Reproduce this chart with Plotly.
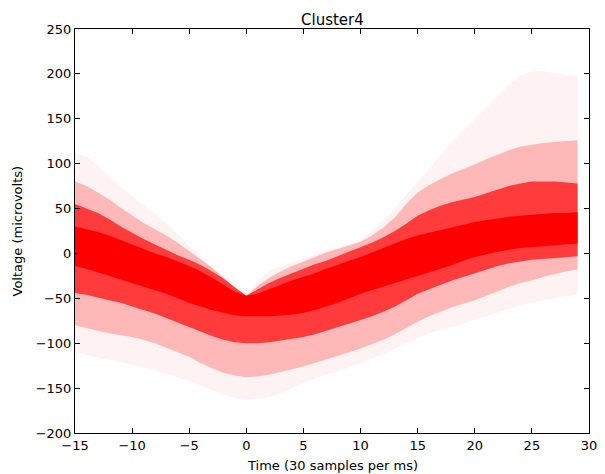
import plotly.graph_objects as go

# Time axis (samples)
t = list(range(-15, 30))

# Envelopes (microvolts), one value per sample
core_upper = [30, 27, 24, 20, 15, 10, 5, 0, -4, -9, -14, -20, -27, -35, -43, -47,
              -45, -40, -35, -30, -26, -22, -17, -13, -8, -4, 1, 6, 11, 16, 20,
              23, 26, 29, 32, 35, 37, 39, 41, 42, 43, 44, 45, 45, 46]
core_lower = [-14, -17, -21, -25, -29, -33, -37, -41, -45, -50, -55, -59, -63, -66, -69, -70,
              -70, -70, -69, -68, -66, -63, -59, -55, -50, -45, -41, -37, -33, -29, -25,
              -21, -17, -13, -8, -4, -1, 2, 4, 6, 7, 8, 9, 10, 11]
mid_upper = [55, 50, 45, 38, 30, 23, 16, 10, 4, -2, -7, -13, -20, -28, -38, -47,
             -40, -33, -27, -22, -17, -12, -8, -3, 2, 7, 12, 18, 25, 33, 42,
             48, 53, 57, 60, 63, 67, 71, 75, 78, 80, 80, 80, 79, 78]
mid_lower = [-44, -46, -49, -52, -55, -59, -63, -67, -72, -77, -82, -87, -92, -96, -99, -100,
             -100, -99, -97, -95, -93, -90, -86, -82, -78, -74, -70, -65, -59, -52, -45,
             -40, -35, -30, -26, -22, -18, -14, -11, -9, -7, -6, -5, -4, -3]
light_upper = [80, 75, 68, 60, 51, 42, 34, 27, 20, 12, 3, -6, -16, -27, -38, -47,
               -36, -27, -20, -14, -9, -4, 1, 5, 9, 13, 20, 29, 40, 55, 68,
               76, 83, 89, 94, 99, 105, 110, 115, 119, 121, 123, 124, 125, 126]
light_lower = [-80, -83, -86, -89, -91, -93, -96, -100, -105, -110, -115, -122, -128, -133, -136, -138,
               -137, -135, -132, -129, -126, -122, -118, -114, -110, -106, -101, -96, -90, -83, -76,
               -70, -65, -60, -56, -52, -47, -42, -37, -33, -30, -26, -23, -20, -18]
faint_upper = [112, 108, 98, 86, 74, 64, 54, 44, 34, 22, 8, -4, -15, -26, -37, -47,
               -30, -20, -14, -10, -6, -1, 3, 7, 10, 15, 25, 37, 50, 65, 80,
               95, 110, 124, 137, 150, 163, 176, 188, 198, 203, 203, 201, 199, 197]
faint_lower = [-110, -113, -116, -119, -121, -124, -127, -130, -134, -138, -142, -147, -152, -157, -161, -163,
               -162, -160, -156, -150, -144, -139, -135, -131, -127, -122, -117, -112, -106, -100, -94,
               -89, -85, -82, -78, -74, -70, -66, -62, -58, -55, -52, -50, -48, -46]

x_ticks = [-15, -10, -5, 0, 5, 10, 15, 20, 25, 30]
y_ticks = [-200, -150, -100, -50, 0, 50, 100, 150, 200, 250]

bands = [
    (faint_upper, faint_lower, "rgba(255,0,0,0.05)"),
    (light_upper, light_lower, "rgba(255,0,0,0.24)"),
    (mid_upper, mid_lower, "rgba(255,0,0,0.68)"),
    (core_upper, core_lower, "rgba(255,0,0,1.0)"),
]

fig = go.Figure()
for up, lo, col in bands:
    fig.add_trace(go.Scatter(
        x=t + t[::-1], y=up + lo[::-1],
        fill="toself", fillcolor=col, mode="lines",
        line=dict(width=0, color=col), hoverinfo="skip", showlegend=False))

font = dict(family="DejaVu Sans", size=13, color="black")
axis_common = dict(showline=True, linecolor="black", linewidth=1, mirror="ticks",
                   ticks="inside", ticklen=5, tickcolor="black", showgrid=False,
                   zeroline=False, tickfont=font, ticklabeloverflow="allow")
fig.update_xaxes(range=[-15, 30], tickvals=x_ticks, **axis_common)
fig.update_yaxes(range=[-200, 250], tickvals=y_ticks, **axis_common)

# The page body adds an 8px offset, so the figure is 8px smaller and margins shifted
fig.update_layout(
    width=597, height=466,
    margin=dict(l=67, r=8, t=21, b=41),
    plot_bgcolor="white", paper_bgcolor="white",
    font=font,
    annotations=[
        dict(text="Cluster4", x=0.5, y=1, xref="paper", yref="paper",
             xanchor="center", yanchor="bottom", yshift=-2, showarrow=False,
             font=dict(family="DejaVu Sans", size=15, color="black")),
        dict(text="Time (30 samples per ms)", x=0.5, y=0, xref="paper", yref="paper",
             xanchor="center", yanchor="top", yshift=-23, showarrow=False, font=font),
        dict(text="Voltage (microvolts)", x=0, y=0.5, xref="paper", yref="paper",
             xanchor="right", yanchor="middle", xshift=-49, textangle=-90,
             showarrow=False, font=font),
    ],
)

fig.write_html("out.html")
